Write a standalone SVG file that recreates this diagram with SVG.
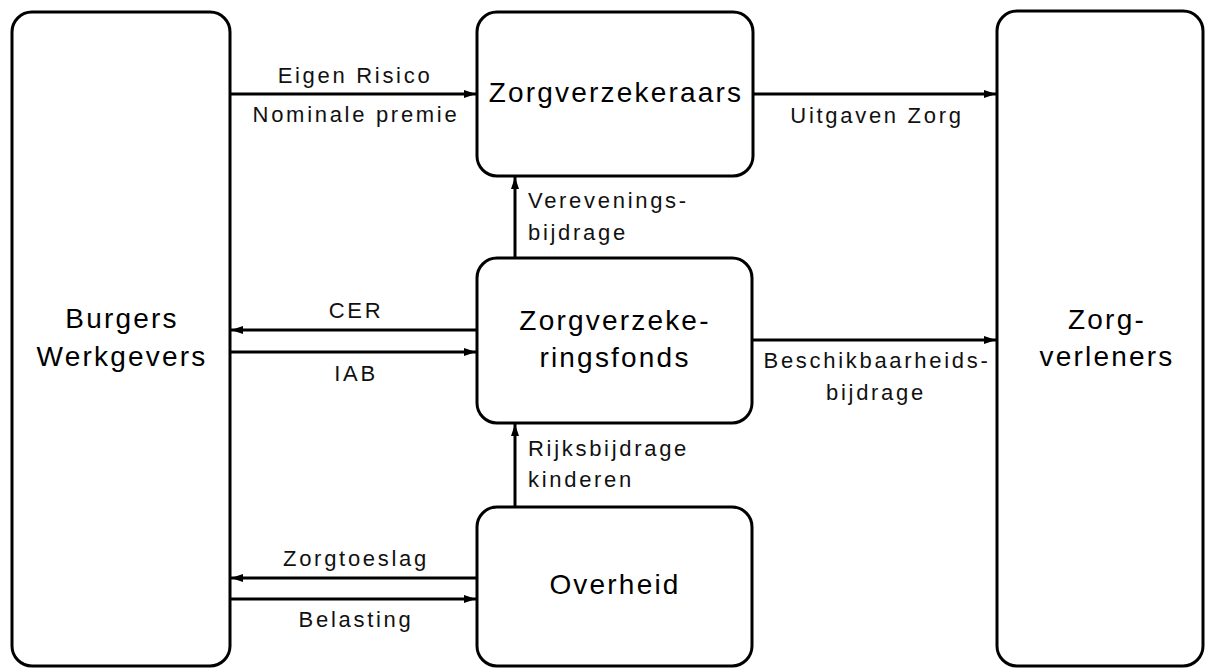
<svg xmlns="http://www.w3.org/2000/svg" width="1214" height="670" viewBox="0 0 1214 670">
<style>
.box{fill:#fff;stroke:#000;stroke-width:3}
.node{font-family:"Liberation Sans",Arial,sans-serif;font-size:28px;letter-spacing:2.2px;fill:#000;text-anchor:middle}
.lbl{font-family:"Liberation Sans",Arial,sans-serif;font-size:22px;letter-spacing:2.7px;fill:#111}
.mid{text-anchor:middle}
.edge{stroke:#000;stroke-width:3;fill:none;marker-end:url(#ah)}
</style>
<defs>
<marker id="ah" viewBox="0 0 12 8" refX="12" refY="4" markerWidth="12" markerHeight="8" markerUnits="userSpaceOnUse" orient="auto">
<path d="M0,0 L12,4 L0,8 Z" fill="#000"/>
</marker>
</defs>
<rect width="1214" height="670" fill="#fff"/>
<g id="burgers">
<rect class="box" x="12" y="12" width="218" height="654" rx="20"/>
<text class="node" x="122" y="328">Burgers</text>
<text class="node" x="122" y="366">Werkgevers</text>
</g>
<g id="zorgverleners">
<rect class="box" x="997" y="11" width="206" height="655" rx="20"/>
<text class="node" x="1107" y="329">Zorg-</text>
<text class="node" x="1107" y="366">verleners</text>
</g>
<g id="zorgverzekeraars">
<rect class="box" x="477" y="12" width="276" height="164" rx="20"/>
<text class="node" x="616" y="102">Zorgverzekeraars</text>
</g>
<g id="zorgverzekeringsfonds">
<rect class="box" x="477" y="258" width="275" height="165" rx="20"/>
<text class="node" x="615" y="330">Zorgverzeke-</text>
<text class="node" x="615" y="367">ringsfonds</text>
</g>
<g id="overheid">
<rect class="box" x="477" y="507" width="275" height="159" rx="20"/>
<text class="node" x="615" y="594">Overheid</text>
</g>
<g id="connectors">
<line class="edge" x1="230" y1="94" x2="476" y2="94"/>
<line class="edge" x1="753" y1="94" x2="996" y2="94"/>
<line class="edge" x1="515" y1="258" x2="515" y2="177"/>
<line class="edge" x1="477" y1="330" x2="231" y2="330"/>
<line class="edge" x1="230" y1="352" x2="476" y2="352"/>
<line class="edge" x1="752" y1="340" x2="996" y2="340"/>
<line class="edge" x1="515" y1="507" x2="515" y2="424"/>
<line class="edge" x1="477" y1="578" x2="231" y2="578"/>
<line class="edge" x1="230" y1="599" x2="476" y2="599"/>
<text class="lbl mid" x="355" y="83">Eigen Risico</text>
<text class="lbl mid" x="356" y="122">Nominale premie</text>
<text class="lbl mid" x="877" y="123">Uitgaven Zorg</text>
<text class="lbl" x="528" y="208">Verevenings-</text>
<text class="lbl" x="528" y="240">bijdrage</text>
<text class="lbl mid" x="356" y="318">CER</text>
<text class="lbl mid" x="356" y="381">IAB</text>
<text class="lbl mid" x="877" y="368">Beschikbaarheids-</text>
<text class="lbl mid" x="876" y="400">bijdrage</text>
<text class="lbl" x="528" y="456">Rijksbijdrage</text>
<text class="lbl" x="528" y="487">kinderen</text>
<text class="lbl mid" x="356" y="566">Zorgtoeslag</text>
<text class="lbl mid" x="356" y="627">Belasting</text>
</g>
</svg>
